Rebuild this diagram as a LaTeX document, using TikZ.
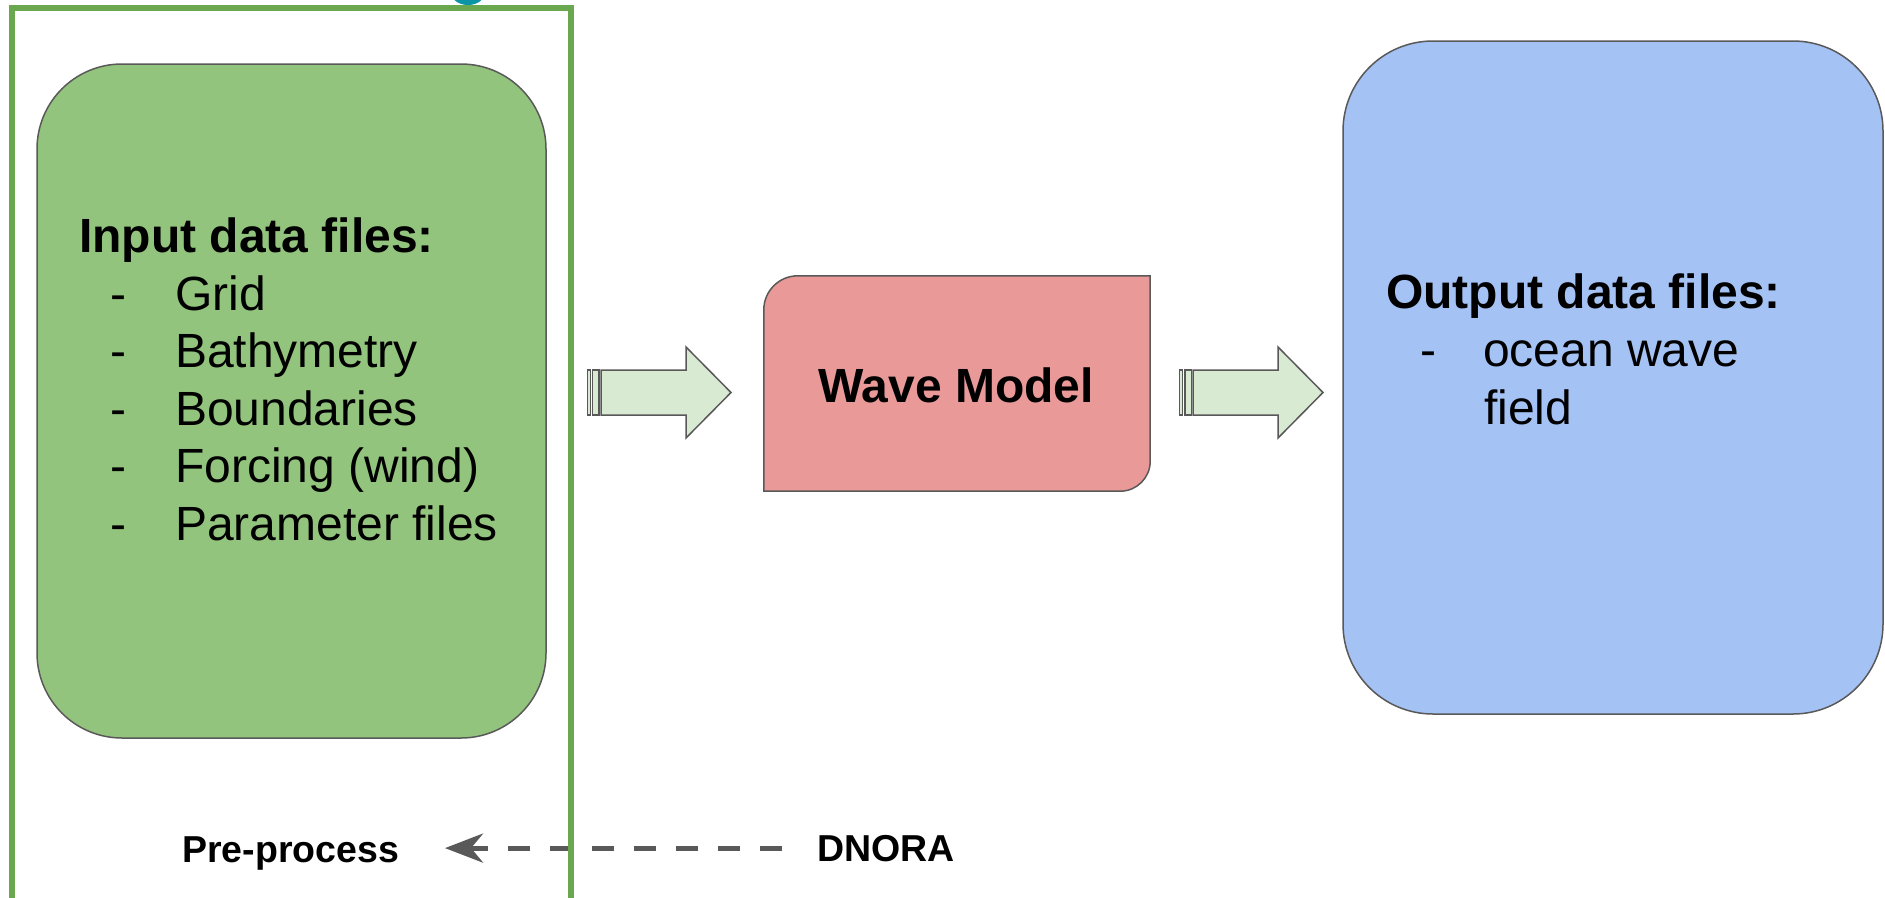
\documentclass[tikz,border=0pt]{standalone}
\usepackage{fontspec}
\setmainfont{Liberation Sans}
\usetikzlibrary{arrows.meta}
\definecolor{boxgreen}{HTML}{93C47D}
\definecolor{framegreen}{HTML}{6AA84F}
\definecolor{boxpink}{HTML}{EA9999}
\definecolor{boxblue}{HTML}{A4C2F4}
\definecolor{arrowfill}{HTML}{D9EAD3}
\definecolor{edgegray}{HTML}{595959}
\definecolor{tealblob}{HTML}{0B93A6}
\begin{document}
\begin{tikzpicture}[x=1pt,y=-1pt,
  box/.style={draw=edgegray, line width=1.5pt, inner sep=0pt},
  boldbig/.style={font=\fontsize{48}{56}\selectfont\bfseries},
  regbig/.style={font=\fontsize{48}{56}\selectfont},
  smallbold/.style={font=\fontsize{37.5}{44}\selectfont\bfseries},
  txt/.style={anchor=base west, inner sep=0pt},
  blockarrow/.style={draw=edgegray, fill=arrowfill, line width=1.5pt, line join=miter}]
\useasboundingbox (0,0) rectangle (1885,897);
\begin{scope}
\clip (0,0) rectangle (1885,897);
\fill[white] (0,0) rectangle (1885,897);
% teal blob (cut-off glyph at top)
\fill[tealblob] (468,-6) ellipse [x radius=16, y radius=11];

% boxes
\node[box, fill=boxgreen, rounded corners=85pt, minimum width=509pt, minimum height=674pt] (input) at (291.5,401) {};
\node[box, fill=boxblue, rounded corners=90pt, minimum width=540pt, minimum height=673pt] (output) at (1613,377.5) {};
\node[inner sep=0pt, minimum width=386pt, minimum height=215pt] (wm) at (957,383.5) {};
\draw[box, fill=boxpink] (wm.south west) [rounded corners=34pt] -- (wm.north west) [sharp corners] -- (wm.north east) [rounded corners=30pt] -- (wm.south east) [sharp corners] -- cycle;

% block arrows
\draw[blockarrow] (587.5,370) rectangle (590.5,415);
\draw[blockarrow] (592.5,370) rectangle (599,415);
\draw[blockarrow] (601,370) -- (686,370) -- (686,347) -- (731,392.5) -- (686,438) -- (686,415) -- (601,415) -- cycle;
\draw[blockarrow] (1179.5,370) rectangle (1182.5,415);
\draw[blockarrow] (1185,370) rectangle (1191.5,415);
\draw[blockarrow] (1193,370) -- (1278,370) -- (1278,347) -- (1323,392.5) -- (1278,438) -- (1278,415) -- (1193,415) -- cycle;

% texts
\node[txt, boldbig] (inhead) at (79,252) {Input data files:};
\foreach \t [count=\i from 0] in {Grid,Bathymetry,Boundaries,Forcing (wind),Parameter files}{
  \node[txt, regbig] (d\i) at (110,310+57.6*\i) {-};
  \node[txt, regbig] (it\i) at (175,310+57.6*\i) {\t};
}
\node[txt, boldbig] (outhead) at (1386,308) {Output data files:};
\node[txt, regbig] (od) at (1420,366) {-};
\node[txt, regbig] (o1) at (1483,366) {ocean wave};
\node[txt, regbig] (o2) at (1484,424) {field};
\node[anchor=base, inner sep=0pt, boldbig] (wmtext) at (956,402) {Wave Model};

\node[txt, smallbold] (pre) at (182,862) {Pre-process};
\node[txt, smallbold] (dnora) at (817,861) {DNORA};
\coordinate (dstart) at ([xshift=-35pt]dnora.west);
\coordinate (dend) at (445,0 |- dstart);
\draw[edgegray, line width=5pt, dash pattern=on 22pt off 20pt,
  -{Stealth[length=38pt,width=29pt,inset=12pt]}] (dstart) -- (dend);

% outer frame
\draw[framegreen, line width=5.5pt] (12,8) rectangle (571,930);
\end{scope}
\end{tikzpicture}
\end{document}
